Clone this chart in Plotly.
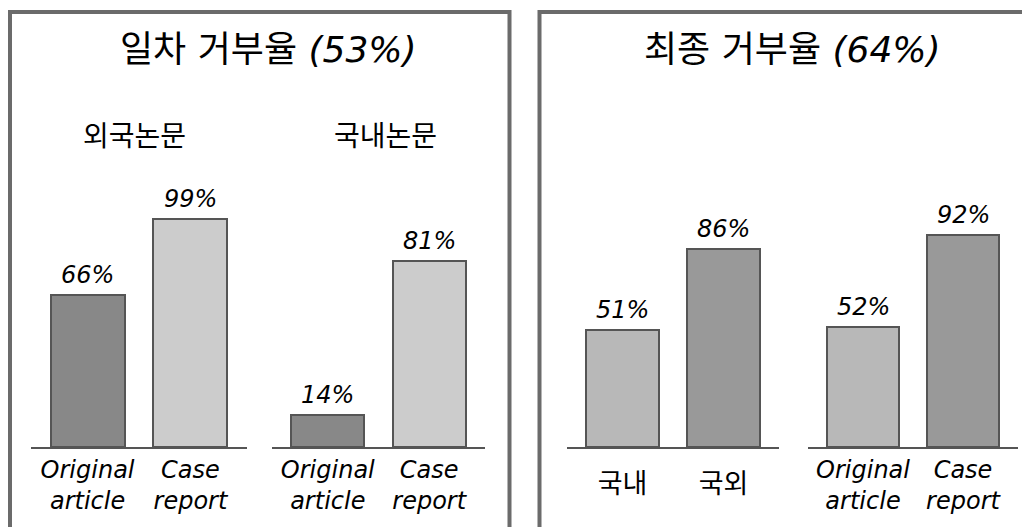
import plotly.graph_objects as go

# 데이터
panel_titles = ["일차 거부율 <i>(53%)</i>", "최종 거부율 <i>(64%)</i>"]
group_titles = ["외국논문", "국내논문"]

article_labels = ["Original<br>article", "Case<br>report"]
region_labels = ["국내", "국외"]

foreign_values = [66, 99]
domestic_values = [14, 81]
region_values = [51, 86]
final_type_values = [52, 92]

# 페이지 body margin(8px) 보정
OFF = 8
W, H = 1030 - OFF, 527 - OFF
FONT = "DejaVu Sans, Noto Sans CJK KR, sans-serif"


def px_x(p):
    return (p - OFF) / W


def px_y(p):
    return 1 - (p - OFF) / H


fig = go.Figure()

# (axis, categories, values, colors, italic ticks, domain in px)
groups = [
    ("x", article_labels, foreign_values, ["#888888", "#cccccc"], True, (31, 247)),
    ("x2", article_labels, domestic_values, ["#888888", "#cccccc"], True, (272, 485)),
    ("x3", region_labels, region_values, ["#b8b8b8", "#999999"], False, (567, 779)),
    ("x4", article_labels, final_type_values, ["#b8b8b8", "#999999"], True, (808, 1018)),
]

annotations = []
for ax, cats, vals, colors, italic, dom in groups:
    fig.add_trace(go.Bar(
        x=cats, y=vals, xaxis=ax, yaxis="y",
        width=0.72,
        marker=dict(color=colors, line=dict(color="#555555", width=2)),
        showlegend=False, hoverinfo="skip",
    ))
    # 값 라벨
    for c, v in zip(cats, vals):
        annotations.append(dict(
            x=c, y=v, xref=ax, yref="y", text=f"<i>{v}%</i>",
            showarrow=False, yanchor="bottom", yshift=4,
            font=dict(size=24, color="black", family=FONT),
        ))
    key = "xaxis" if ax == "x" else "xaxis" + ax[1:]
    fig.update_layout({key: dict(
        domain=[px_x(dom[0]), px_x(dom[1])],
        anchor="y", type="category", range=[-0.55, 1.55],
        showline=True, linecolor="#555555", linewidth=2,
        showgrid=False, zeroline=False, ticks="",
        ticklabelstandoff=0 if italic else 12,
        tickfont=dict(size=24 if italic else 27, color="black", family=FONT,
                      style="italic" if italic else "normal"),
    )})

# 패널 제목
for t, cx in zip(panel_titles, [268, 792]):
    annotations.append(dict(
        x=px_x(cx), y=px_y(50), xref="paper", yref="paper", text=t,
        showarrow=False, xanchor="center", yanchor="middle",
        font=dict(size=36, color="black", family=FONT),
    ))

# 그룹 제목
for t, cx in zip(group_titles, [134, 385]):
    annotations.append(dict(
        x=px_x(cx), y=px_y(136), xref="paper", yref="paper", text=t,
        showarrow=False, xanchor="center", yanchor="middle",
        font=dict(size=28, color="black", family=FONT),
    ))

# 패널 테두리
shapes = [
    dict(type="rect", xref="paper", yref="paper",
         x0=px_x(10), x1=px_x(509.5), y0=-0.2, y1=px_y(12),
         line=dict(color="#6b6b6b", width=4)),
    dict(type="rect", xref="paper", yref="paper",
         x0=px_x(539.5), x1=1.2, y0=-0.2, y1=px_y(12),
         line=dict(color="#6b6b6b", width=4)),
]

fig.update_layout(
    width=W, height=H,
    margin=dict(l=0, r=0, t=0, b=0),
    paper_bgcolor="white", plot_bgcolor="white",
    yaxis=dict(domain=[px_y(447), px_y(217)], range=[0, 100],
               visible=False, showgrid=False, zeroline=False),
    annotations=annotations,
    shapes=shapes,
    bargap=0,
)

fig.write_html("out.html")
